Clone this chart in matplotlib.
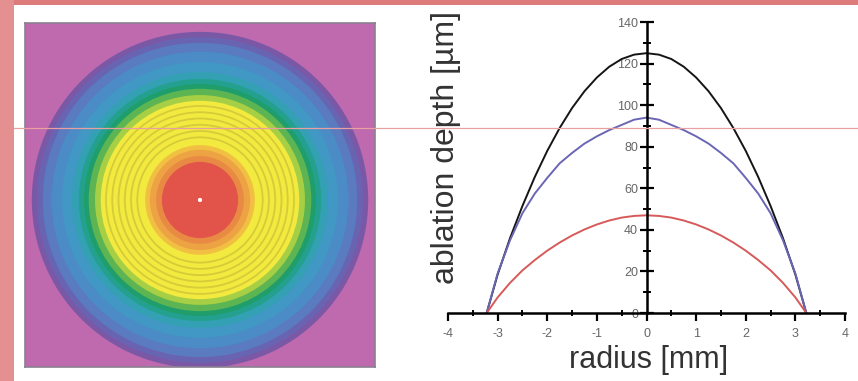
import matplotlib
matplotlib.use('Agg')
import matplotlib.pyplot as plt
from matplotlib.patches import Circle, Rectangle
from matplotlib.lines import Line2D
from matplotlib.ticker import MultipleLocator

plt.rcParams['font.family'] = ['Liberation Sans', 'DejaVu Sans']
plt.rcParams['axes.unicode_minus'] = False

# radius positions (mm) where the profiles were read
radius = [-3.22, -3.0, -2.75, -2.5, -2.25, -2.0, -1.75, -1.5, -1.25, -1.0, -0.75, -0.5, -0.25,
          0.0, 0.25, 0.5, 0.75, 1.0, 1.25, 1.5, 1.75, 2.0, 2.25, 2.5, 2.75, 3.0, 3.22]

# ablation depth (um)
depth_black = [0, 18.5, 36, 51.5, 65.5, 78, 89, 98.6, 106.7, 113.3, 118.5, 122.2, 124.3,
               125, 124.3, 122.2, 118.5, 113.3, 106.7, 98.6, 89, 78, 65.5, 51.5, 36, 18.5, 0]
depth_blue = [0, 19, 35, 48, 57.5, 65, 72, 77, 81.5, 85, 88, 90.5, 93,
              94, 93, 90.5, 88, 85, 81.5, 77, 72, 65, 57.5, 48, 35, 19, 0]
depth_red = [0, 7.5, 14.5, 20.5, 25.5, 30, 33.9, 37.3, 40.2, 42.6, 44.5, 45.9, 46.7,
             47, 46.7, 45.9, 44.5, 42.6, 40.2, 37.3, 33.9, 30, 25.5, 20.5, 14.5, 7.5, 0]

# filled zones of the depth map, outside to inside (radius in mm)
zone_radii = [3.22, 3.12, 3.01, 2.84, 2.64, 2.45, 2.32, 2.22, 2.13, 2.01, 1.90,
              1.05, 0.96, 0.84, 0.73]
zone_colors = ['#7a58a6', '#6964b2', '#5a7bc0', '#4b8cc6', '#4198c4', '#34a0b4',
               '#24a08e', '#1f9e6c', '#5cb552', '#a6cf45', '#f2ea3e',
               '#f1c042', '#eda243', '#e88a44', '#e2544a']
# thin contour rings inside the yellow zone
contour_radii = [1.80, 1.68, 1.56, 1.44, 1.32, 1.20]

yticks = [0, 20, 40, 60, 80, 100, 120, 140]
xticks = [-4, -3, -2, -1, 0, 1, 2, 3, 4]

fig = plt.figure(figsize=(8.58, 3.81), dpi=100)
fig.patch.set_facecolor('white')

# left: depth map
ax_map = fig.add_axes([25 / 858, 1 - 367 / 381, 350 / 858, 344 / 381])
ax_map.set_facecolor('#bf69ae')
for r, c in zip(zone_radii, zone_colors):
    ax_map.add_patch(Circle((0, 0), r, color=c, lw=0))
for r in contour_radii:
    ax_map.add_patch(Circle((0, 0), r, fill=False, ec='#d6cc3a', lw=1.3))
ax_map.add_patch(Circle((0, 0), 0.04, color='white', lw=0))
ax_map.set_xlim(-3.35, 3.35)
ax_map.set_ylim(-3.2, 3.39)
ax_map.set_xticks([])
ax_map.set_yticks([])
for s in ax_map.spines.values():
    s.set_color('#8a8090')
    s.set_linewidth(1.2)

# right: profiles
ax = fig.add_axes([448 / 858, 1 - 313 / 381, 397 / 858, 291 / 381])
ax.plot(radius, depth_black, color='#151515', lw=1.4)
ax.plot(radius, depth_blue, color='#6a66b4', lw=1.4)
ax.plot(radius, depth_red, color='#d65a5a', lw=1.4)
ax.set_xlim(-4, 4)
ax.set_ylim(0, 140)
ax.spines['top'].set_visible(False)
ax.spines['right'].set_visible(False)
ax.spines['left'].set_position(('data', 0))
ax.spines['bottom'].set_position(('data', 0))
ax.spines['left'].set_linewidth(1.8)
ax.spines['bottom'].set_linewidth(1.8)
ax.set_xticks(xticks)
ax.set_yticks(yticks)
ax.xaxis.set_minor_locator(MultipleLocator(0.5))
ax.yaxis.set_minor_locator(MultipleLocator(10))
ax.tick_params(axis='y', which='major', direction='inout', length=10, width=1.6,
               labelsize=9, labelcolor='#666666', pad=1)
ax.tick_params(axis='y', which='minor', direction='inout', length=6, width=1.4)
ax.tick_params(axis='x', which='major', direction='out', length=6, width=1.6,
               labelsize=9, labelcolor='#666666', pad=5)
ax.tick_params(axis='x', which='minor', direction='inout', length=5, width=1.4)
ax.patch.set_alpha(0)

fig.text(446 / 858, 1 - 148 / 381, 'ablation depth [µm]', rotation=90,
         ha='center', va='center', fontsize=23, color='#333333')
fig.text(649 / 858, 1 - 360 / 381, 'radius [mm]',
         ha='center', va='center', fontsize=22, color='#333333')

# slide decoration: pink bands and stray line
fig.add_artist(Rectangle((0, 1 - 5 / 381), 1, 5 / 381, transform=fig.transFigure,
                         color='#dd7b7b', lw=0))
fig.add_artist(Rectangle((0, 0), 14 / 858, 1, transform=fig.transFigure,
                         color='#e49090', lw=0))
fig.add_artist(Line2D([14 / 858, 1], [1 - 127.5 / 381] * 2, transform=fig.transFigure,
                      color='#e9a0a0', lw=0.9))

fig.savefig('out.png', dpi=100)
